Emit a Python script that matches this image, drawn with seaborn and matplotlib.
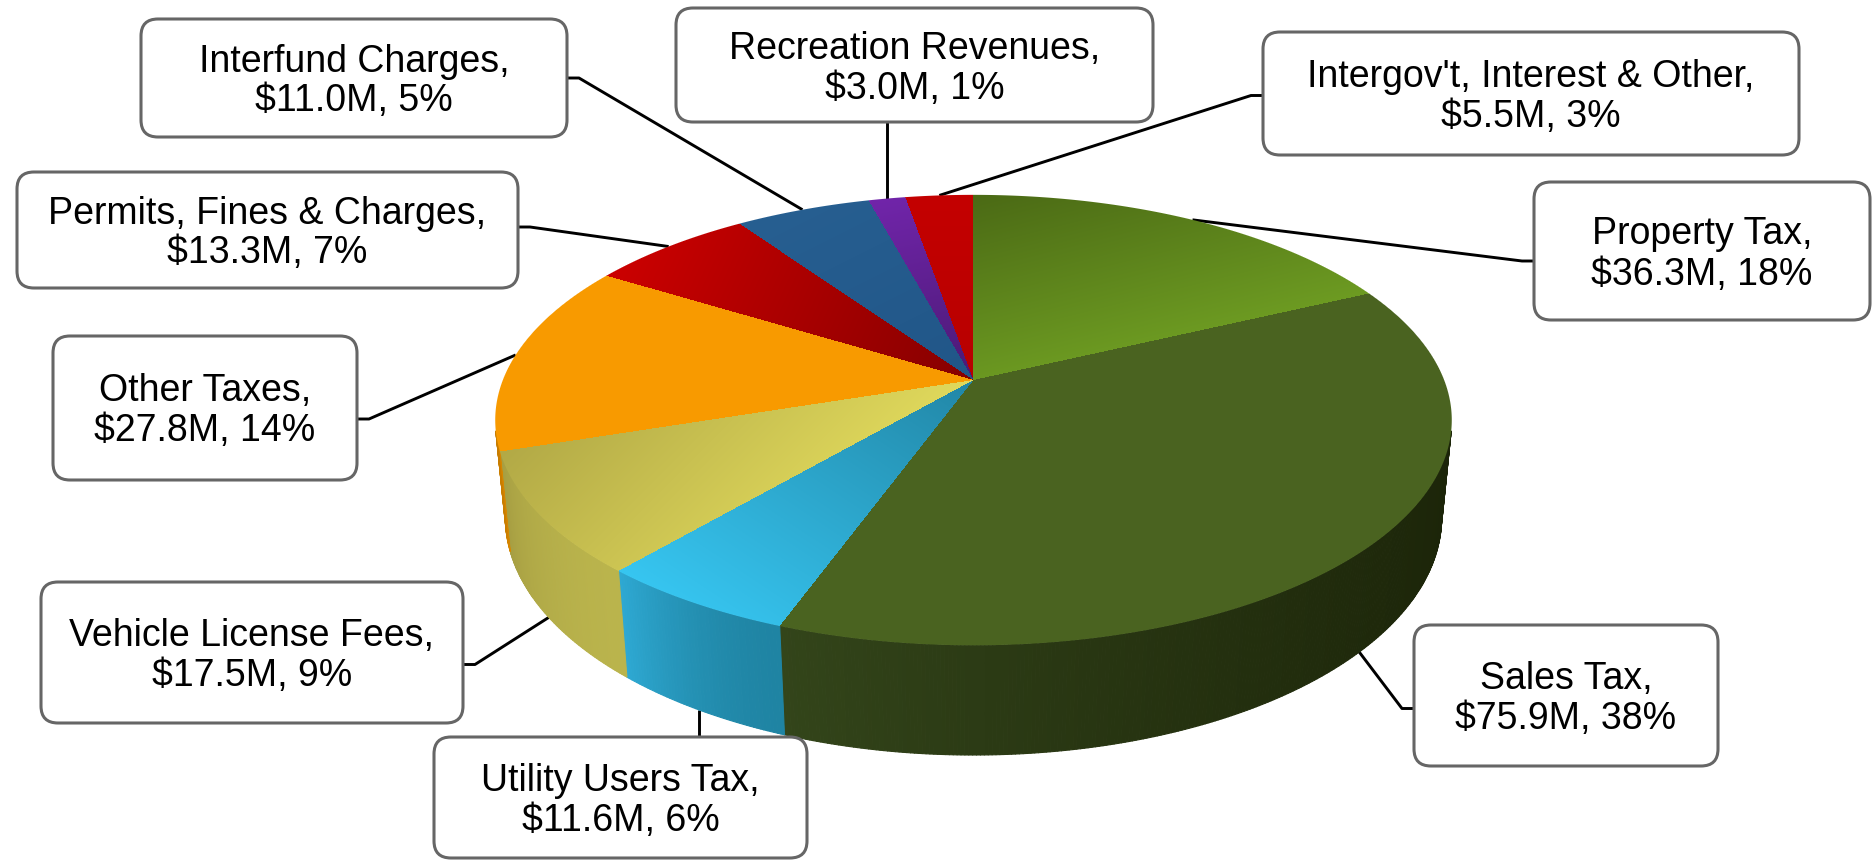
import numpy as np
import matplotlib
matplotlib.use("Agg")
import matplotlib.pyplot as plt
import seaborn as sns
from matplotlib.patches import FancyBboxPatch
from matplotlib.collections import PolyCollection
from matplotlib.colors import to_rgb

# data (clockwise from 12 o'clock)
labels = ["Property Tax", "Sales Tax", "Utility Users Tax", "Vehicle License Fees",
          "Other Taxes", "Permits, Fines & Charges", "Interfund Charges",
          "Recreation Revenues", "Intergov't, Interest & Other"]
amounts = [36.3, 75.9, 11.6, 17.5, 27.8, 13.3, 11.0, 3.0, 5.5]

# top face colours: gradient start, end and screen direction
top_a = ["#4b6a15", "#4a6320", "#2287a7", "#b2a946", "#f89a00",
         "#cc0000", "#275f91", "#7125aa", "#c40000"]
top_b = ["#6d9b22", "#4a6320", "#37c6f1", "#e0d95c", "#f89a00",
         "#860000", "#215688", "#4b1a75", "#b80000"]
top_dir = [(0.25, 1), (0, 0), (-0.55, 0.83), (0.7, 0.7), (0, 0),
           (1, 0.45), (0.5, 1), (0.2, 1), (0, 1)]
# outer wall colours (left end, right end)
side_left = ["#3d5712", "#33451a", "#2ea9d3", "#a69e42", "#c77c00",
             "#8a0000", "#1a4470", "#4b1a75", "#8a0000"]
side_right = ["#3d5712", "#1c2509", "#1f84a3", "#bab44c", "#d88700",
              "#8a0000", "#1a4470", "#4b1a75", "#8a0000"]

# label boxes: left, top, width, height, side the leader enters, leader y offset
boxes = [(1534, 182, 336, 138, "left", 10),
         (1414, 625, 304, 141, "left", 13),
         (434, 737, 373, 121, "top", 0),
         (41, 582, 422, 141, "right", 12),
         (53, 336, 304, 144, "right", 11),
         (17, 172, 501, 116, "right", -3),
         (141, 19, 426, 118, "right", 0),
         (676, 8, 477, 114, "bottom", 0),
         (1263, 32, 536, 123, "left", 2)]

sns.set_theme(style="white")
plt.rcParams["font.family"] = ["Liberation Sans", "DejaVu Sans"]

W, H = 1873, 860
fig = plt.figure(figsize=(W / 100, H / 100), dpi=100)
ax = fig.add_axes([0, 0, 1, 1])

n = len(amounts)
total = sum(amounts)
edges = np.concatenate([[0], np.cumsum(amounts) / total * 360])
mids = (edges[:-1] + edges[1:]) / 2

# simple perspective camera looking down on a unit disc
CX, CY = 973.5, 380.0
FOC = 2389.0
XSQ = 0.985
DIST = 5.0
TILT = np.radians(27.16)
THICK = 0.2307
cs, sn = np.cos(TILT), np.sin(TILT)


def project(theta, z=0.0, r=1.0):
    t = np.radians(theta)
    X, Y = r * np.sin(t), r * np.cos(t)
    depth = DIST + Y * cs - z * sn
    return CX + XSQ * X * FOC / depth, CY - (Y * sn + z * cs) * FOC / depth


# outer wall, only the part facing the camera
vis_lo = np.degrees(np.arccos(-1 / (DIST * cs)))
vis_hi = 360 - vis_lo
polys, cols = [], []
for i in range(n):
    lo, hi = max(edges[i], vis_lo), min(edges[i + 1], vis_hi)
    if hi <= lo:
        continue
    th = np.linspace(lo, hi, int((hi - lo) / 0.4) + 2)
    ca, cb = np.array(to_rgb(side_left[i])), np.array(to_rgb(side_right[i]))
    for k in range(len(th) - 1):
        p1 = project(th[k]); p2 = project(th[k + 1])
        p3 = project(th[k + 1], -THICK); p4 = project(th[k], -THICK)
        polys.append([p1, p2, p3, p4])
        t = ((th[k] + th[k + 1]) / 2 - lo) / (hi - lo)
        cols.append(cb + (ca - cb) * t ** 1.6)
ax.add_collection(PolyCollection(polys, facecolors=cols, edgecolors=cols,
                                 linewidths=0.8, zorder=2))

# top face rendered as an image through the inverse projection
x0, x1 = int(CX - 500), int(CX + 500)
y0, y1 = int(CY - 200), int(CY + 290)
gx, gy = np.meshgrid(np.arange(x0, x1) + 0.5, np.arange(y0, y1) + 0.5)
sy = CY - gy
Yp = sy * DIST / (sn * FOC - sy * cs)
Xp = (gx - CX) / XSQ * (DIST + Yp * cs) / FOC
rr = np.hypot(Xp, Yp)
ang = np.degrees(np.arctan2(Xp, Yp)) % 360
idx = np.clip(np.searchsorted(edges, ang, side="right") - 1, 0, n - 1)
rgba = np.zeros(gx.shape + (4,))
inside = rr <= 1.0
for i in range(n):
    m = idx == i
    ca, cb = np.array(to_rgb(top_a[i])), np.array(to_rgb(top_b[i]))
    ux, uy = top_dir[i]
    pr = gx * ux + gy * uy
    mi = m & inside
    lo, hi = pr[mi].min(), pr[mi].max()
    if hi > lo:
        t = np.clip((pr[m] - lo) / (hi - lo), 0, 1)
    else:
        t = np.zeros(m.sum())
    rgba[m, :3] = ca + (cb - ca) * t[:, None]
gr = np.hypot(*np.gradient(rr))
rgba[..., 3] = np.clip(0.5 + (1 - rr) / gr, 0, 1)
ax.imshow(rgba, extent=(x0, x1, y1, y0), interpolation="nearest", zorder=3)

# labels and leader lines
for i in range(n):
    bx, by, bw, bh, side, dy = boxes[i]
    cxb, cyb = bx + bw / 2, by + bh / 2
    if np.cos(np.radians(mids[i])) < -1 / (DIST * cs):
        sx0, sy0 = project(mids[i], -THICK)
    else:
        sx0, sy0 = project(mids[i])
    if side == "left":
        pts = [(sx0, sy0), (bx - 12, cyb + dy), (bx, cyb + dy)]
    elif side == "right":
        pts = [(sx0, sy0), (bx + bw + 12, cyb + dy), (bx + bw, cyb + dy)]
    elif side == "top":
        pts = [(sx0, sy0), (sx0, by)]
    else:
        pts = [(sx0, sy0), (sx0, by + bh)]
    xs, ys = zip(*pts)
    ax.plot(xs, ys, color="black", lw=2.1, zorder=1, solid_capstyle="butt")

    ax.add_patch(FancyBboxPatch((bx, by), bw, bh,
                                boxstyle="round,pad=0,rounding_size=17",
                                facecolor="white", edgecolor="#666666",
                                lw=2.2, zorder=4))
    pct = round(amounts[i] / total * 100)
    ax.text(cxb, cyb - 6.5, labels[i] + ",", ha="center", va="baseline",
            fontsize=27, color="black", zorder=5)
    ax.text(cxb, cyb + 33.5, f"${amounts[i]:.1f}M, {pct}%", ha="center",
            va="baseline", fontsize=27, color="black", zorder=5)

ax.set_aspect("auto")
ax.set_xlim(0, W)
ax.set_ylim(H, 0)
ax.axis("off")
fig.savefig("out.png", dpi=100, facecolor="white")
